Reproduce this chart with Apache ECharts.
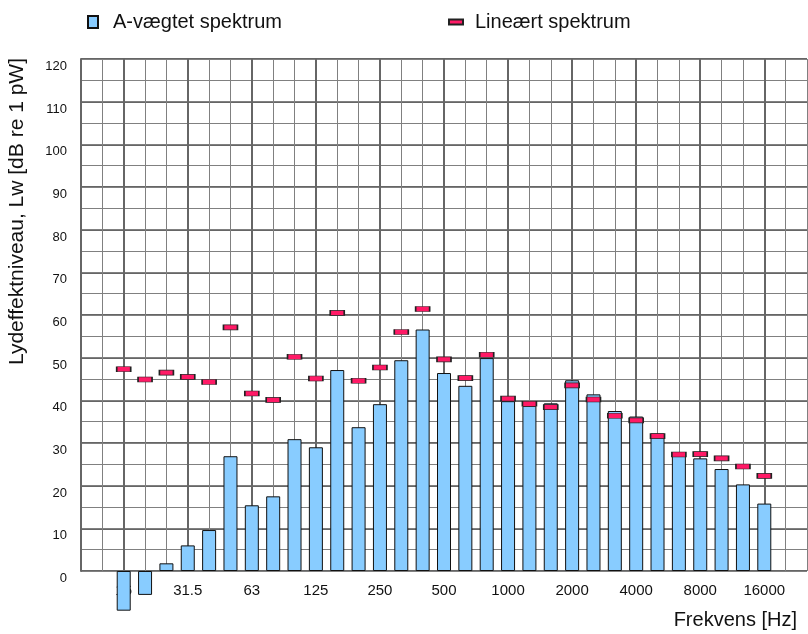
<!DOCTYPE html>
<html>
<head>
<meta charset="utf-8">
<script src="https://cdn.jsdelivr.net/npm/echarts@6/dist/echarts.min.js"></script>
<style>
  html, body { margin: 0; padding: 0; background: #fff; }
  #chart { width: 808px; height: 634px; }
</style>
</head>
<body>
<div id="chart"></div>
<script>
// Third-octave band centre frequencies (Hz)
const categories = ['10','12.5','16','20','25','31.5','40','50','63','80','100','125','160','200','250','315','400','500','630','800','1000','1250','1600','2000','2500','3150','4000','5000','6300','8000','10000','12500','16000','20000','25000'];
// A-weighted spectrum (dB)
const aWeighted = [null,null,-9.3,-5.6,1.8,6.0,9.6,26.9,15.4,17.5,30.9,29.0,47.1,33.7,39.1,49.4,56.6,46.4,43.4,49.9,39.8,38.7,39.3,44.7,41.4,37.5,36.2,32.2,27.2,26.4,23.9,20.3,15.8,null,null];
// Linear spectrum (dB)
const linear = [null,null,47.3,44.9,46.5,45.5,44.3,57.1,41.6,40.1,50.2,45.1,60.5,44.6,47.7,56.0,61.4,49.6,45.2,50.7,40.4,39.2,38.4,43.5,40.2,36.4,35.3,31.6,27.3,27.4,26.4,24.5,22.3,null,null];
// Labelled ticks
const tickLabels = ['16','31.5','63','125','250','500','1000','2000','4000','8000','16000'];

const FONT = 'Liberation Sans, Arial, Helvetica, sans-serif';
const chart = echarts.init(document.getElementById('chart'), null, { renderer: 'canvas' });

const labelled = (i) => tickLabels.indexOf(categories[i]) >= 0;

chart.setOption({
  animation: false,
  backgroundColor: '#fff',
  grid: { left: 81, right: 1, top: 59, bottom: 63, containLabel: false },
  legend: [
    {
      left: 82, top: 7,
      itemWidth: 10, itemHeight: 12,
      icon: 'rect',
      data: ['A-vægtet spektrum'],
      textStyle: { fontFamily: FONT, fontSize: 20, color: '#111', padding: [0, 0, 0, 10] }
    },
    {
      left: 443, top: 7,
      itemWidth: 14, itemHeight: 5,
      icon: 'rect',
      data: ['Lineært spektrum'],
      textStyle: { fontFamily: FONT, fontSize: 20, color: '#111', padding: [0, 0, 0, 7] }
    }
  ],
  xAxis: [
    {
      type: 'category',
      data: categories,
      boundaryGap: false,
      axisLine: { show: false },
      axisTick: { show: false },
      axisLabel: {
        interval: (i) => labelled(i),
        fontFamily: FONT, fontSize: 15, color: '#111', margin: 12
      },
      splitLine: { show: true, interval: 0, lineStyle: { color: '#808080', width: 1 } }
    },
    {
      type: 'category',
      data: categories,
      boundaryGap: false,
      position: 'bottom',
      axisLine: { show: false },
      axisTick: { show: false },
      axisLabel: { show: false },
      splitLine: { show: true, interval: (i) => i % 3 === 2, lineStyle: { color: '#666', width: 2 } }
    }
  ],
  yAxis: [
    {
      type: 'value',
      min: 0, max: 120, interval: 10,
      axisLine: { show: true, lineStyle: { color: '#666', width: 2 } },
      axisTick: { show: false },
      axisLabel: {
        fontFamily: FONT, fontSize: 13, color: '#111', margin: 14,
        verticalAlign: 'top', padding: [1, 0, 0, 0]
      },
      splitLine: { show: true, lineStyle: { color: '#666', width: 2 } }
    },
    {
      type: 'value',
      min: 0, max: 120, interval: 5,
      axisLine: { show: false },
      axisTick: { show: false },
      axisLabel: { show: false },
      splitLine: { show: true, lineStyle: { color: '#808080', width: 1 } }
    }
  ],
  series: [
    {
      name: 'A-vægtet spektrum',
      type: 'bar',
      data: aWeighted,
      barWidth: 14,
      clip: false,
      z: 3,
      itemStyle: { color: '#88ccff', borderColor: '#111', borderWidth: 1 }
    },
    {
      name: 'Lineært spektrum',
      type: 'scatter',
      data: linear,
      symbol: 'rect',
      symbolSize: [14, 5],
      z: 4,
      itemStyle: { color: '#ff1a66', borderColor: '#222', borderWidth: 1, opacity: 1 }
    }
  ],
  graphic: [
    {
      type: 'text',
      left: 7, top: 58,
      rotation: Math.PI / 2,
      style: {
        text: 'Lydeffektniveau, Lw [dB re 1 pW]',
        font: '21px ' + FONT,
        fill: '#111'
      }
    },
    {
      type: 'text',
      right: 11, top: 610,
      style: {
        text: 'Frekvens [Hz]',
        font: '20px ' + FONT,
        fill: '#111'
      }
    }
  ]
});
</script>
</body>
</html>
